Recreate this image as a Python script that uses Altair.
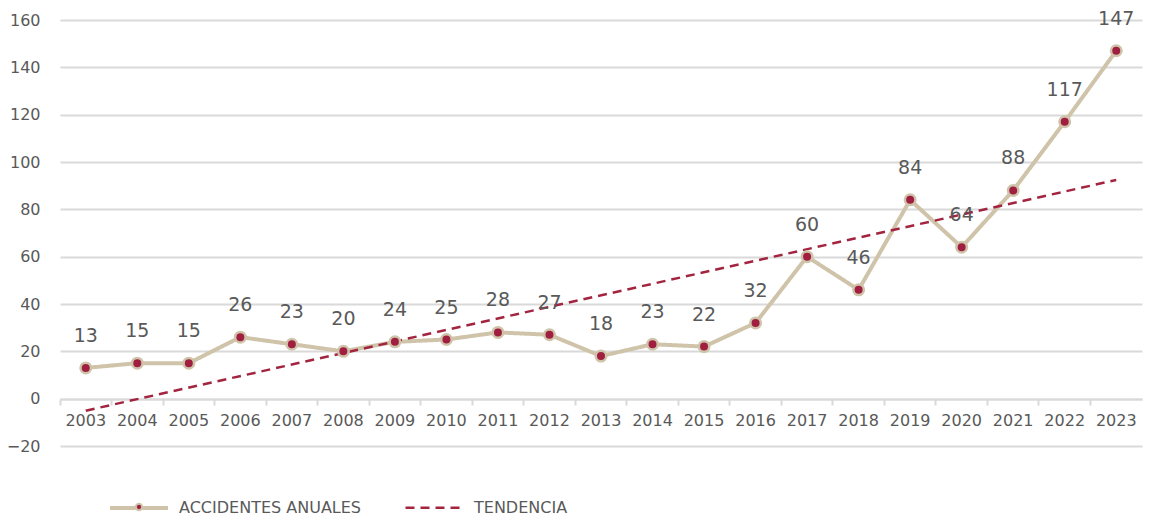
import altair as alt
import pandas as pd

years = list(range(2003, 2024))
accidents = [13, 15, 15, 26, 23, 20, 24, 25, 28, 27, 18, 23, 22, 32, 60, 46, 84, 64, 88, 117, 147]
series_names = ["ACCIDENTES ANUALES", "TENDENCIA"]
y_ticks = list(range(-20, 161, 20))

df = pd.DataFrame({"year": years, "value": accidents})
df["series"] = series_names[0]
df["pt"] = series_names[0]

TAN = "#cfc3a9"
RED = "#a01f40"
TREND = "#a3243f"
TEXT = "#595959"
GRID = "#d9d9d9"
FONT = "DejaVu Sans"

x = alt.X(
    "year:O",
    scale=alt.Scale(type="band", domain=years, paddingInner=0, paddingOuter=0),
    axis=alt.Axis(title=None, labelAngle=0, offset=-47, bandPosition=0,
                  domainColor=GRID, domainWidth=2, tickColor=GRID, tickWidth=2,
                  tickSize=6, labelPadding=7, labelFontSize=16, labelColor=TEXT,
                  labelFont=FONT, grid=False, labelBound=False),
)
y = alt.Y(
    "value:Q",
    scale=alt.Scale(domain=[-20, 160], nice=False, zero=False),
    axis=alt.Axis(title=None, values=y_ticks, ticks=False, domain=False,
                  gridColor=GRID, gridWidth=2, labelPadding=20, labelFontSize=16,
                  labelColor=TEXT, labelFont=FONT),
)

leg = alt.Legend(title=None, orient="none", direction="horizontal", legendX=48, legendY=457,
                 symbolType="stroke", symbolSize=3364, labelFontSize=16, labelColor=TEXT,
                 labelFont=FONT, labelOffset=9, columnPadding=39, labelLimit=400)

stroke_enc = alt.Stroke("series:N", scale=alt.Scale(domain=series_names, range=[TAN, TREND]), legend=leg)
dash_enc = alt.StrokeDash("series:N", scale=alt.Scale(domain=series_names, range=[[1, 0], [9, 6]]), legend=leg)
width_enc = alt.StrokeWidth("series:N", scale=alt.Scale(domain=series_names, range=[4, 2.5]), legend=leg)

base = alt.Chart(df)

line = base.mark_line().encode(x=x, y=y, stroke=stroke_enc, strokeDash=dash_enc, strokeWidth=width_enc)

trend = (
    base.transform_regression("year", "value")
    .transform_calculate(series="'TENDENCIA'")
    .mark_line()
    .encode(x=x, y=y, stroke=stroke_enc, strokeDash=dash_enc, strokeWidth=width_enc)
)

points = base.mark_point(filled=True, size=110, stroke=TAN, strokeWidth=2.5, opacity=1).encode(
    x=x, y=y,
    fill=alt.Fill("pt:N", scale=alt.Scale(domain=[series_names[0]], range=[RED]),
                  legend=alt.Legend(title=None, orient="none", legendX=74, legendY=482,
                                    symbolType="circle", symbolSize=40, symbolStrokeColor=TAN,
                                    symbolStrokeWidth=2, labelExpr="''", symbolOpacity=1)),
)

labels = base.mark_text(dy=-32, fontSize=19, color=TEXT, font=FONT, baseline="middle").encode(
    x=x, y=y, text="value:Q"
)

chart = (
    alt.layer(line, trend, points, labels)
    .properties(width=1082, height=426, autosize="none",
                padding={"left": 52, "top": 12, "right": 1, "bottom": 71},
                view=alt.ViewBackground(stroke="transparent", strokeWidth=0))
    .configure_view(stroke="transparent", strokeWidth=0)
    .configure_axisX(grid=False)
    .configure_axisY(domain=False)
    .configure(background="white")
)

chart.save("out.html", embed_options={"renderer": "svg", "actions": False})
